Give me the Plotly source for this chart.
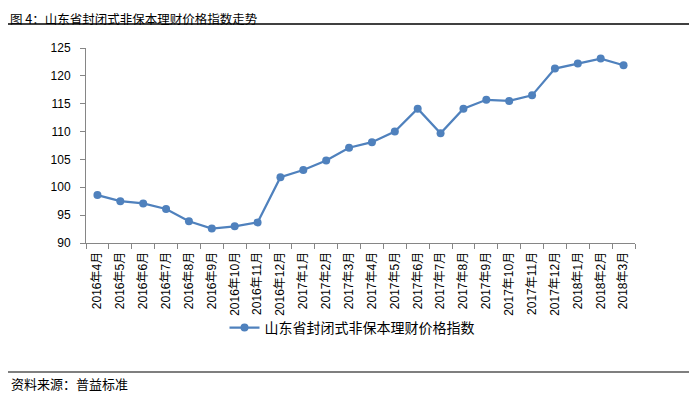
import plotly.graph_objects as go

categories = ["2016年4月", "2016年5月", "2016年6月", "2016年7月", "2016年8月", "2016年9月",
              "2016年10月", "2016年11月", "2016年12月", "2017年1月", "2017年2月", "2017年3月",
              "2017年4月", "2017年5月", "2017年6月", "2017年7月", "2017年8月", "2017年9月",
              "2017年10月", "2017年11月", "2017年12月", "2018年1月", "2018年2月", "2018年3月"]
values = [98.6, 97.5, 97.1, 96.1, 93.9, 92.6, 93.0, 93.7, 101.8, 103.1, 104.8, 107.1,
          108.1, 110.0, 114.1, 109.7, 114.1, 115.7, 115.5, 116.5, 121.3, 122.2, 123.1, 121.9]
series_name = "山东省封闭式非保本理财价格指数"
title_text = "图 4：山东省封闭式非保本理财价格指数走势"
source_text = "资料来源：普益标准"

# page has an 8px body margin: figure drawn from page (8, 8)
OFF = 8
W, H = 697 - OFF, 397 - OFF
PL, PR, PT, PB = 86, 635, 48, 243  # plot area in page pixels
L, R, T, B = PL - OFF, W - (PR - OFF), PT - OFF, H - (PB - OFF)
PW, PH = PR - PL, PB - PT


def px(x):
    return (x - PL) / PW


def py(y):
    return (PB - y) / PH


CJK = "Noto Sans CJK SC"
fig = go.Figure()
fig.add_trace(go.Scatter(
    x=categories, y=values, mode="lines+markers", name=series_name,
    line=dict(color="#4F81BD", width=2.25),
    marker=dict(color="#4F81BD", size=8, symbol="circle"),
))

fig.update_layout(
    width=W, height=H, autosize=False,
    margin=dict(l=L, r=R, t=T, b=B, pad=0),
    paper_bgcolor="white", plot_bgcolor="white",
    showlegend=True,
    legend=dict(orientation="h", x=px(352), y=py(328), xanchor="center", yanchor="middle",
                font=dict(family=CJK, size=14, color="#000000"), bgcolor="rgba(0,0,0,0)"),
    xaxis=dict(type="category", range=[-0.5, len(categories) - 0.5], showgrid=False,
               showline=True, linecolor="#868686", linewidth=1, ticks="outside",
               tickson="boundaries", ticklen=5, tickcolor="#868686", tickangle=-90,
               ticklabelstandoff=3,
               tickfont=dict(family="Liberation Sans, " + CJK, size=12, color="#000000"),
               zeroline=False),
    yaxis=dict(range=[90, 125], dtick=5, tick0=90, showgrid=False, showline=True,
               linecolor="#868686", linewidth=1, ticks="outside", ticklen=5,
               ticklabelstandoff=7,
               tickcolor="#868686", tickfont=dict(family="Liberation Sans", size=12, color="#000000"),
               zeroline=False),
)

fig.add_annotation(text=title_text, xref="paper", yref="paper", x=px(9), y=py(OFF),
                   xanchor="left", yanchor="top", showarrow=False, borderpad=0,
                   font=dict(family=CJK, size=12.5, color="#000000"))
fig.add_annotation(text=source_text, xref="paper", yref="paper", x=px(9), y=py(383),
                   xanchor="left", yanchor="middle", showarrow=False,
                   font=dict(family=CJK, size=13, color="#000000"))
fig.add_shape(type="line", xref="paper", yref="paper", x0=px(7), x1=px(690), y0=py(24), y1=py(24),
              line=dict(color="#000000", width=1.5))
fig.add_shape(type="line", xref="paper", yref="paper", x0=px(7), x1=px(690), y0=py(372), y1=py(372),
              line=dict(color="#000000", width=1.2))

fig.write_html("out.html")
